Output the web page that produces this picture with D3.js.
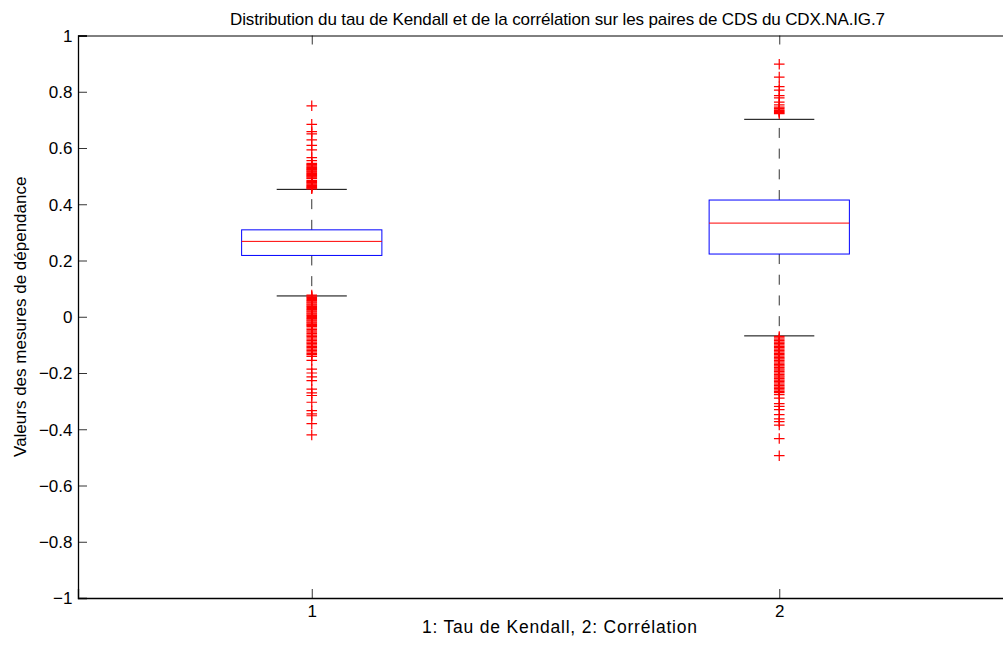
<!DOCTYPE html>
<html><head><meta charset="utf-8">
<script src="https://cdn.jsdelivr.net/npm/d3@7"></script>
<style>
body{margin:0;background:#fff;}
text{font-family:"Liberation Sans",Arial,Helvetica,sans-serif;fill:#000;}
</style></head>
<body><svg id="c" width="1003" height="645"></svg>
<script>
const categories = [1, 2];
const yTicks = [-1, -0.8, -0.6, -0.4, -0.2, 0, 0.2, 0.4, 0.6, 0.8, 1];
const q1 = [0.218, 0.223];
const medians = [0.268, 0.333];
const q3 = [0.309, 0.415];
const whiskerLow = [0.074, -0.068];
const whiskerHigh = [0.453, 0.702];
const outliers1 = [0.75, 0.684, 0.658, 0.650, 0.629, 0.609, 0.593, 0.566, 0.555,
  0.545, 0.542, 0.539, 0.536, 0.533, 0.530, 0.527, 0.524, 0.521, 0.518, 0.515, 0.512, 0.509, 0.506, 0.503, 0.500,
  0.497, 0.494, 0.491, 0.484, 0.481, 0.478, 0.475, 0.472, 0.469, 0.466, 0.463, 0.460, 0.457, 0.455,
  0.077, 0.073, 0.069, 0.065, 0.061, 0.057, 0.053, 0.049, 0.045, 0.041, 0.037, 0.033, 0.029, 0.025, 0.021, 0.017,
  0.013, 0.009, 0.005, 0.001, -0.003, -0.007, -0.011, -0.015, -0.019, -0.023, -0.027, -0.031, -0.034,
  -0.040, -0.045, -0.050, -0.055, -0.060, -0.065, -0.070, -0.075, -0.080, -0.085, -0.090, -0.095, -0.100,
  -0.105, -0.110, -0.115, -0.120, -0.125, -0.130, -0.135, -0.141,
  -0.155, -0.186, -0.200, -0.214, -0.227, -0.257, -0.271, -0.280, -0.304, -0.334, -0.345, -0.352, -0.380, -0.420];
const outliers2 = [0.898, 0.852, 0.818, 0.806, 0.786, 0.778, 0.763, 0.753, 0.745, 0.741, 0.736, 0.733, 0.729, 0.726, 0.722,
  -0.070, -0.075, -0.080, -0.085, -0.090, -0.095, -0.100, -0.105, -0.110, -0.115, -0.120, -0.125, -0.130, -0.135,
  -0.140, -0.145, -0.150, -0.155, -0.160, -0.165, -0.170, -0.175, -0.180, -0.185, -0.190, -0.195, -0.200,
  -0.205, -0.210, -0.215, -0.220, -0.225, -0.230, -0.235, -0.240, -0.245, -0.250, -0.255, -0.260, -0.265,
  -0.270, -0.277, -0.289, -0.309, -0.319, -0.330, -0.348, -0.363, -0.373, -0.385, -0.433, -0.494];
const outliers = [outliers1, outliers2];
const title = "Distribution du tau de Kendall et de la corrélation sur les paires de CDS du CDX.NA.IG.7";
const xLabel = "1: Tau de Kendall, 2: Corrélation";
const yLabel = "Valeurs des mesures de dépendance";

const FS = 17;
const svg = d3.select("#c");
const L = 78, R = 1013, T = 35.5, B = 598;
const x = d3.scaleLinear().domain([0.5, 2.5]).range([L, R]);
const y = d3.scaleLinear().domain([-1, 1]).range([B, T]);
const boxHalf = 0.15, capHalf = 0.075;
const fmt = v => (v < 0 ? "\u2212" : "") + d3.format("")(Math.abs(v));

const gL = svg.append("g").attr("transform", `translate(${L},0)`)
  .call(d3.axisLeft(y).tickValues(yTicks).tickSize(-9).tickFormat(fmt));
const gR = svg.append("g").attr("transform", `translate(${R},0)`)
  .call(d3.axisRight(y).tickValues(yTicks).tickSize(-9).tickFormat(""));
const gB = svg.append("g").attr("transform", `translate(0,${B})`)
  .call(d3.axisBottom(x).tickValues(categories).tickSize(-9).tickFormat(d3.format("d")));
const gT = svg.append("g").attr("transform", `translate(0,${T})`)
  .call(d3.axisTop(x).tickValues(categories).tickSize(-9).tickFormat(""));
[gL, gR, gB, gT].forEach(g => {
  g.attr("font-size", FS).attr("font-family", "Liberation Sans, Arial, sans-serif");
  g.select(".domain").attr("stroke", "#000").attr("stroke-width", 1.3);
  g.selectAll(".tick line").attr("stroke", "#000").attr("stroke-width", 0.8);
  g.selectAll(".tick text").attr("fill", "#000");
});
gL.selectAll(".tick text").attr("x", -5.5).attr("dy", "0.35em");
gB.selectAll(".tick text").attr("y", 19).attr("dy", 0);
gT.select(".domain").attr("stroke-width", 1);

const plot = svg.append("g");
categories.forEach((c, i) => {
  plot.append("line").attr("x1", x(c)).attr("x2", x(c)).attr("y1", y(q3[i])).attr("y2", y(whiskerHigh[i]))
    .attr("stroke", "#333").attr("stroke-width", 1).attr("stroke-dasharray", "10,10.7");
  plot.append("line").attr("x1", x(c)).attr("x2", x(c)).attr("y1", y(q1[i])).attr("y2", y(whiskerLow[i]))
    .attr("stroke", "#333").attr("stroke-width", 1).attr("stroke-dasharray", "10,10.7");
  [whiskerLow[i], whiskerHigh[i]].forEach(v => {
    plot.append("line").attr("x1", x(c - capHalf)).attr("x2", x(c + capHalf)).attr("y1", y(v)).attr("y2", y(v))
      .attr("stroke", "#000").attr("stroke-width", 1);
  });
  plot.append("rect").attr("x", x(c - boxHalf)).attr("width", x(c + boxHalf) - x(c - boxHalf))
    .attr("y", y(q3[i])).attr("height", y(q1[i]) - y(q3[i]))
    .attr("fill", "none").attr("stroke", "#0000ff").attr("stroke-width", 1);
  plot.append("line").attr("x1", x(c - boxHalf)).attr("x2", x(c + boxHalf)).attr("y1", y(medians[i])).attr("y2", y(medians[i]))
    .attr("stroke", "#ff0000").attr("stroke-width", 1);
  const s = 5.3;
  plot.append("g").selectAll("path").data(outliers[i]).join("path")
    .attr("d", v => `M${x(c) - s},${y(v)}H${x(c) + s}M${x(c)},${y(v) - s}V${y(v) + s}`)
    .attr("stroke", "#ff0000").attr("stroke-width", 1.2).attr("fill", "none");
});

svg.append("text").attr("x", 230).attr("y", 25).attr("font-size", FS)
  .attr("textLength", 655).attr("lengthAdjust", "spacing").text(title);
svg.append("text").attr("x", 422).attr("y", 633).attr("font-size", 17.5)
  .attr("textLength", 275).attr("lengthAdjust", "spacing").text(xLabel);
svg.append("text").attr("transform", `translate(26,${(T + B) / 2}) rotate(-90)`).attr("text-anchor", "middle").attr("font-size", FS).text(yLabel);
</script></body></html>
